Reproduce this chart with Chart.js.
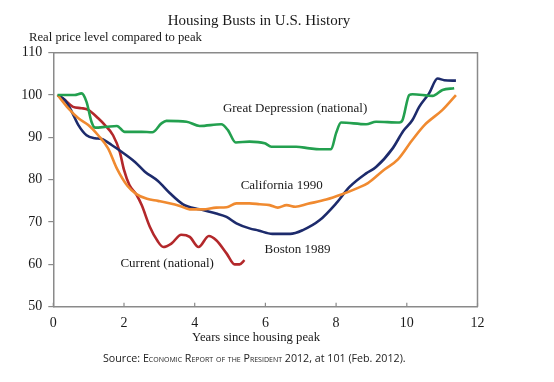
<!DOCTYPE html>
<html><head><meta charset="utf-8">
<script src="https://cdn.jsdelivr.net/npm/chart.js@4/dist/chart.umd.min.js"></script>
<style>
html,body{margin:0;padding:0;background:#fff;}
#wrap{position:relative;width:554px;height:382px;}
#src{position:absolute;left:103px;top:351px;font-family:"Open Sans",sans-serif;font-size:10.7px;color:#222;white-space:nowrap;}
#src .sc{font-variant:small-caps;}
</style></head>
<body>
<div id="wrap"><canvas id="c" width="554" height="382"></canvas>
<div id="src">Source: <span class="sc">Economic Report of the President</span> 2012, at 101 (Feb. 2012).</div>
</div>
<script>
// ---- data (years since peak, real price level) ----
const gdYears = [0.12,0.6,0.8,0.94,1.08,1.18,1.5,1.8,2.02,2.5,2.8,3.06,3.2,3.77,4.14,4.75,4.94,5.16,5.55,5.98,6.17,6.87,7.25,7.53,7.86,8.0,8.14,8.85,9.13,9.79,9.88,10.07,10.16,10.73,11.01,11.34];
const gdValues = [100,100,100.4,98.4,93.7,92.3,92.5,92.7,91.3,91.3,91.2,93.3,93.9,93.7,92.7,93.1,91.7,88.8,89.0,88.6,87.8,87.8,87.4,87.2,87.2,91,93.5,93.1,93.7,93.5,94.1,100,100.2,99.8,101.2,101.6];
const bosYears = [0.12,0.33,0.52,0.71,0.94,1.18,1.37,1.65,1.93,2.31,2.59,2.96,3.3,3.67,4.14,4.61,4.9,5.18,5.55,5.8,6.2,6.7,7.06,7.53,8.0,8.38,8.85,9.13,9.6,9.9,10.16,10.35,10.63,10.87,11.06,11.39];
const bosValues = [100,98.8,96.1,92.9,90.5,89.8,89.6,88.2,86.6,84.2,81.9,79.7,76.8,74.2,73,72,71.2,69.7,68.5,68.0,67.2,67.2,68.1,70.4,74.4,78.3,81.5,83,87.4,91.5,94.1,97.2,100.4,103.9,103.5,103.4];
const calYears = [0.12,0.42,0.71,0.99,1.27,1.55,1.8,2.1,2.35,2.65,2.96,3.25,3.58,3.86,4.23,4.61,4.9,5.18,5.55,5.84,6.12,6.35,6.6,6.85,7.2,7.72,8.15,8.57,8.9,9.35,9.75,10.14,10.5,11.01,11.39];
const calValues = [100,96.9,94.5,92.9,90.5,87.4,82.6,78.5,76.6,75.5,75,74.5,73.8,73,73,73.4,73.5,74.4,74.4,74.2,74,73.4,74,73.6,74.3,75.3,76.5,77.9,79.2,82.3,84.8,89.2,92.9,96.5,100];
const curYears = [0.12,0.33,0.56,0.8,0.99,1.27,1.46,1.69,1.88,2.0,2.15,2.35,2.5,2.73,2.95,3.11,3.34,3.62,3.86,4.11,4.4,4.61,4.9,5.13,5.27,5.41];
const curValues = [100,98.8,97.2,96.9,96.5,94.5,92.9,90.5,86.6,82.3,78.8,76.5,74,68.9,65.5,64.1,64.9,67,66.5,64.1,66.7,65.7,62.6,60.0,60.0,61.0];
const seriesNames = ["Great Depression (national)","California 1990","Boston 1989","Current (national)"];
const labelYears = [6.84,6.46,6.91,3.22];
const labelValues = [96.7,78.5,63.6,60.3];
const xTicks = [0,2,4,6,8,10,12];
const yTicks = [50,60,70,80,90,100,110];
const titleText = "Housing Busts in U.S. History";
const yAxisText = "Real price level compared to peak";
const xAxisText = "Years since housing peak";

const toPts = (xs, ys) => xs.map((x, i) => ({x, y: ys[i]}));
const colors = ['#23a04f', '#f08a30', '#1d2b6c', '#b3282b'];
const serif = '"Liberation Serif", "Times New Roman", serif';
const axisColor = '#8a8a8a';

const textPlugin = {
  id: 'texts',
  afterDraw(chart) {
    const {ctx, chartArea: a, scales: {x, y}} = chart;
    ctx.save();
    // frame top & right
    ctx.strokeStyle = axisColor; ctx.lineWidth = 1.5;
    ctx.beginPath();
    ctx.moveTo(a.left, a.top); ctx.lineTo(a.right, a.top); ctx.lineTo(a.right, a.bottom);
    ctx.stroke();
    // inward x ticks
    ctx.lineWidth = 1.2;
    xTicks.forEach(t => {
      const px = x.getPixelForValue(t);
      ctx.beginPath(); ctx.moveTo(px, a.bottom); ctx.lineTo(px, a.bottom - 4); ctx.stroke();
    });
    ctx.fillStyle = '#1a1a1a';
    ctx.textBaseline = 'middle';
    ctx.font = '15px ' + serif; ctx.textAlign = 'center';
    ctx.fillText(titleText, 259, 21);
    ctx.font = '12.7px ' + serif; ctx.textAlign = 'left';
    ctx.fillText(yAxisText, 29, 38);
    ctx.font = '12.7px ' + serif; ctx.textAlign = 'center';
    ctx.fillText(xAxisText, 256, 337.5);
    ctx.font = '13px ' + serif;
    seriesNames.forEach((n, i) => {
      ctx.fillText(n, x.getPixelForValue(labelYears[i]), y.getPixelForValue(labelValues[i]));
    });
    ctx.restore();
  }
};

new Chart(document.getElementById('c'), {
  type: 'line',
  data: {
    datasets: [
      {label: seriesNames[0], data: toPts(gdYears, gdValues), borderColor: colors[0]},
      {label: seriesNames[1], data: toPts(calYears, calValues), borderColor: colors[1]},
      {label: seriesNames[2], data: toPts(bosYears, bosValues), borderColor: colors[2]},
      {label: seriesNames[3], data: toPts(curYears, curValues), borderColor: colors[3]}
    ].map(d => Object.assign(d, {borderWidth: 2.6, pointRadius: 0, fill: false, cubicInterpolationMode: 'monotone'}))
  },
  options: {
    responsive: false, animation: false, devicePixelRatio: 1,
    layout: {padding: {top: 52.7, right: 76.5, bottom: 45, left: 0}},
    plugins: {legend: {display: false}, tooltip: {enabled: false}, title: {display: false}},
    scales: {
      x: {
        type: 'linear', min: 0, max: 12,
        afterBuildTicks: s => { s.ticks = xTicks.map(v => ({value: v})); },
        afterFit: s => { s.height = 382 - 306.7 - 45; },
        grid: {display: false},
        border: {display: true, color: axisColor, width: 1.5},
        ticks: {font: {family: serif, size: 14}, color: '#1a1a1a', padding: 0, maxRotation: 0}
      },
      y: {
        min: 50, max: 110,
        afterBuildTicks: s => { s.ticks = yTicks.map(v => ({value: v})); },
        afterFit: s => { s.width = 53.3; },
        grid: {display: true, drawOnChartArea: false, drawTicks: true, tickLength: 5, color: axisColor, lineWidth: 1.2},
        border: {display: true, color: axisColor, width: 1.5},
        ticks: {font: {family: serif, size: 14}, color: '#1a1a1a', padding: 6}
      }
    }
  },
  plugins: [textPlugin]
});
</script>
</body></html>
